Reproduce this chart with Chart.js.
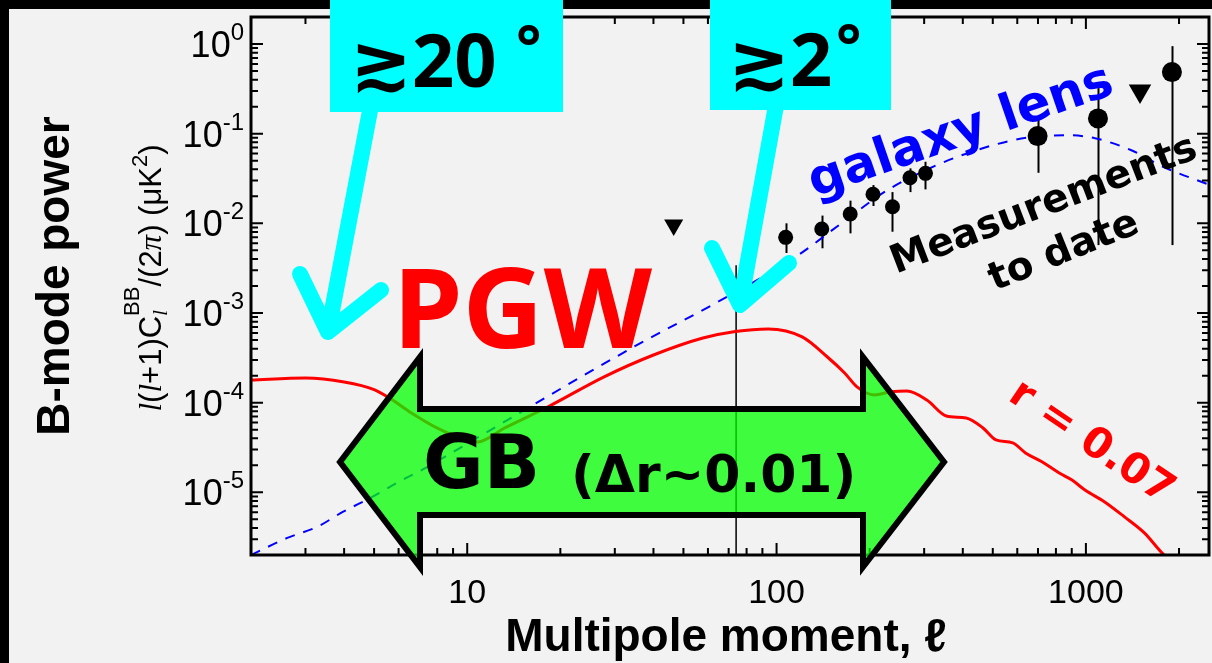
<!DOCTYPE html>
<html>
<head>
<meta charset="utf-8">
<script src="https://cdn.jsdelivr.net/npm/chart.js@4"></script>
<style>
  html, body { margin: 0; padding: 0; background: #000; overflow: hidden; }
  #wrap { width: 1222px; height: 663px; }
</style>
</head>
<body>
<div id="wrap"><canvas id="c" width="1222" height="663"></canvas></div>
<script>
// Primordial gravitational-wave B-mode spectrum for r = 0.07
const pgwEll = [2, 3, 4, 5, 5.6, 6.6, 8.1, 9.9, 10.8, 13.2, 18.2, 27.7, 40, 57.8, 73.6, 94, 121, 146, 166, 182, 207, 234, 264, 306, 354, 410, 465, 512, 580, 638, 723, 820, 902, 993, 1150, 1333, 1545, 1790, 2000];
const pgwPower = [1.79e-4, 1.88e-4, 1.70e-4, 1.40e-4, 1.13e-4, 7.67e-5, 5.09e-5, 3.84e-5, 3.65e-5, 5.22e-5, 8.95e-5, 1.94e-4, 3.40e-4, 5.26e-4, 6.22e-4, 6.64e-4, 5.41e-4, 3.23e-4, 2.14e-4, 1.50e-4, 1.22e-4, 1.32e-4, 1.35e-4, 1.07e-4, 7.11e-5, 6.75e-5, 5.22e-5, 3.84e-5, 3.56e-5, 2.75e-5, 2.18e-5, 1.64e-5, 1.37e-5, 1.06e-5, 7.82e-6, 5.32e-6, 3.53e-6, 2.0e-6, 1.5e-6];

// Gravitational lensing B-mode spectrum
const lensEll = [2, 2.62, 3.27, 3.96, 4.93, 6.01, 7.34, 8.89, 34.5, 63.5, 115, 162, 228, 329, 475, 657, 883, 1070, 1403, 1790, 2500];
const lensPower = [2.0e-6, 3.10e-6, 4.11e-6, 6.04e-6, 8.88e-6, 1.31e-5, 1.87e-5, 2.75e-5, 4.18e-4, 1.29e-3, 4.21e-3, 1.0e-2, 2.34e-2, 4.44e-2, 7.05e-2, 9.12e-2, 9.6e-2, 8.89e-2, 6.53e-2, 4.22e-2, 2.7e-2];

// Measured band powers with 1-sigma ranges
const measEll = [107, 140, 173, 205, 237, 270, 303, 698, 1094, 1897];
const measPower = [6.98e-3, 8.64e-3, 1.27e-2, 2.11e-2, 1.53e-2, 3.22e-2, 3.61e-2, 9.40e-2, 0.148, 0.486];
const measLow = [4.67e-3, 5.27e-3, 7.73e-3, 1.56e-2, 8.06e-3, 2.23e-2, 2.39e-2, 3.66e-2, 5.72e-3, 5.72e-3];
const measHigh = [1.0e-2, 1.22e-2, 1.79e-2, 2.67e-2, 2.23e-2, 4.10e-2, 4.86e-2, 0.148, 0.322, 0.946];

// Upper limits
const limitEll = [46.5, 1496];
const limitPower = [9.6e-3, 0.30];

// Angular scale marker (ell ~ 74, i.e. ~2 degrees)
const markerEll = [74, 74];
const markerPower = [3.4e-3, 2e-6];

// Axis ticks
const xTickLabels = [10, 100, 1000];
const yTickExponents = [0, -1, -2, -3, -4, -5];

const toXY = (xs, ys) => xs.map((x, i) => ({ x, y: ys[i] }));

const SANS = "'Liberation Sans', Arial, sans-serif";
const NOTO = "'Noto Sans', 'DejaVu Sans', sans-serif";
const WIDE = "'DejaVu Sans', sans-serif";

function drawBackground(chart) {
  const c = chart.ctx;
  c.save();
  c.fillStyle = '#000';
  c.fillRect(0, 0, chart.width, chart.height);
  c.fillStyle = '#f2f2f2';
  c.fillRect(9, 9, chart.width, chart.height);
  c.restore();
}

function drawErrorBars(chart) {
  const c = chart.ctx, xs = chart.scales.x, ys = chart.scales.y;
  c.save();
  c.strokeStyle = '#000';
  c.lineWidth = 2;
  measEll.forEach((l, i) => {
    const px = Math.round(xs.getPixelForValue(l)) + 0.5;
    c.beginPath();
    c.moveTo(px, ys.getPixelForValue(measHigh[i]));
    c.lineTo(px, ys.getPixelForValue(measLow[i]));
    c.stroke();
  });
  c.restore();
}

function minorValues(min, max) {
  const out = [];
  for (let e = Math.floor(Math.log10(min)); e <= Math.ceil(Math.log10(max)); e++) {
    for (let k = 1; k <= 9; k++) {
      const v = k * Math.pow(10, e);
      if (v >= min * 0.999 && v <= max * 1.001) out.push({ v, major: k === 1 });
    }
  }
  return out;
}

function drawFrame(chart) {
  const c = chart.ctx, a = chart.chartArea, xs = chart.scales.x, ys = chart.scales.y;
  c.save();
  c.strokeStyle = '#000';
  c.lineWidth = 2;
  // inward tick marks on all four sides
  minorValues(xs.min, xs.max).forEach(t => {
    const px = xs.getPixelForValue(t.v);
    const len = t.major ? 12 : 7;
    c.beginPath();
    c.moveTo(px, a.bottom); c.lineTo(px, a.bottom - len);
    c.moveTo(px, a.top); c.lineTo(px, a.top + len);
    c.stroke();
  });
  minorValues(ys.min, ys.max).forEach(t => {
    const py = ys.getPixelForValue(t.v);
    const len = t.major ? 12 : 7;
    c.beginPath();
    c.moveTo(a.left, py); c.lineTo(a.left + len, py);
    c.moveTo(a.right, py); c.lineTo(a.right - len, py);
    c.stroke();
  });
  c.lineWidth = 3;
  c.strokeRect(a.left, a.top, a.right - a.left, a.bottom - a.top);

  // tick labels
  c.fillStyle = '#000';
  c.textBaseline = 'alphabetic';
  c.textAlign = 'center';
  c.font = `34px ${SANS}`;
  xTickLabels.forEach(v => {
    c.fillText(String(v), xs.getPixelForValue(v), 603);
  });
  yTickExponents.forEach(e => {
    const py = ys.getPixelForValue(Math.pow(10, e));
    const exp = e === 0 ? '0' : '-' + Math.abs(e);
    c.font = `24px ${SANS}`;
    const ew = c.measureText(exp).width;
    c.textAlign = 'right';
    c.fillText(exp, 244, py - 4);
    c.font = `36px ${SANS}`;
    c.fillText('10', 244 - ew, py + 13);
  });
  c.restore();
}

function drawAxisTitles(chart) {
  const c = chart.ctx;
  c.save();
  c.fillStyle = '#000';
  c.textBaseline = 'alphabetic';
  // horizontal title
  c.font = `bold 46px ${SANS}`;
  c.textAlign = 'center';
  c.fillText('Multipole moment, \u2113', 726, 651);

  // "B-mode power"
  c.save();
  c.translate(69, 276);
  c.rotate(-Math.PI / 2);
  c.font = `bold 46px ${SANS}`;
  c.textAlign = 'center';
  c.fillText('B-mode power', 0, 0);
  c.restore();

  // l(l+1)C_l^BB/(2pi) (uK^2)
  c.save();
  c.translate(161, 278);
  c.rotate(-Math.PI / 2);
  const base = 31, small = 22;
  const parts = [
    { t: 'l', f: `italic ${base}px 'Liberation Serif', serif` },
    { t: '(', f: `${base}px ${SANS}` },
    { t: 'l', f: `italic ${base}px 'Liberation Serif', serif` },
    { t: '+1)C', f: `${base}px ${SANS}` },
    { t: 'l', f: `italic ${small}px 'Liberation Serif', serif`, dy: 6, stackWith: { t: 'BB', f: `${small}px ${SANS}`, dy: -22 } },
    { t: '/(2', f: `${base}px ${SANS}` },
    { t: '\u03c0', f: `italic ${base}px 'Liberation Serif', serif` },
    { t: ') (\u03bcK', f: `${base}px ${SANS}` },
    { t: '2', f: `${small}px ${SANS}`, dy: -14 },
    { t: ')', f: `${base}px ${SANS}` }
  ];
  let total = 0;
  parts.forEach(p => {
    c.font = p.f; let w = c.measureText(p.t).width;
    if (p.stackWith) { c.font = p.stackWith.f; w = Math.max(w, c.measureText(p.stackWith.t).width); }
    p.w = w; total += w;
  });
  let x = -total / 2;
  c.textAlign = 'left';
  parts.forEach(p => {
    c.font = p.f;
    c.fillText(p.t, x, p.dy || 0);
    if (p.stackWith) { c.font = p.stackWith.f; c.fillText(p.stackWith.t, x, p.stackWith.dy); }
    x += p.w;
  });
  c.restore();
  c.restore();
}

function drawGreenArrow(chart) {
  const c = chart.ctx;
  c.save();
  c.beginPath();
  const pts = [[340, 462], [420, 357], [420, 409], [863, 409], [863, 357], [944, 462], [863, 567], [863, 515], [420, 515], [420, 567]];
  pts.forEach((p, i) => i ? c.lineTo(p[0], p[1]) : c.moveTo(p[0], p[1]));
  c.closePath();
  c.fillStyle = 'rgba(0, 255, 0, 0.74)';
  c.fill();
  c.lineWidth = 6;
  c.lineJoin = 'miter';
  c.strokeStyle = '#000';
  c.stroke();
  c.fillStyle = '#000';
  c.textBaseline = 'alphabetic';
  c.textAlign = 'left';
  c.font = `bold 74px ${WIDE}`;
  c.fillText('GB', 423, 488);
  c.font = `bold 52px ${WIDE}`;
  c.fillText('(\u0394r~0.01)', 571, 492);
  c.restore();
}

function drawCallouts(chart) {
  const c = chart.ctx;
  c.save();
  // cyan pointers
  c.strokeStyle = '#00ffff';
  c.lineWidth = 16;
  c.lineCap = 'round';
  c.lineJoin = 'round';
  const arrows = [
    { from: [372, 100], tip: [328, 332], l: [300, 274], r: [381, 290] },
    { from: [777, 100], tip: [740, 305], l: [712, 248], r: [789, 263] }
  ];
  arrows.forEach(a => {
    c.beginPath();
    c.moveTo(a.from[0], a.from[1]); c.lineTo(a.tip[0], a.tip[1]);
    c.moveTo(a.l[0], a.l[1]); c.lineTo(a.tip[0], a.tip[1]); c.lineTo(a.r[0], a.r[1]);
    c.stroke();
  });
  // cyan boxes
  c.fillStyle = '#00ffff';
  c.fillRect(330, 0, 233, 112);
  c.fillRect(710, 0, 181, 110);
  c.fillStyle = '#000';
  c.textBaseline = 'alphabetic';
  c.textAlign = 'left';
  c.font = `bold 74px ${NOTO}`;
  c.fillText('\u227320', 350, 87);
  c.fillText('\u22732', 728, 86);
  c.font = `bold 60px ${NOTO}`;
  c.fillText('\u00b0', 516, 68);
  c.fillText('\u00b0', 836, 67);

  // PGW
  c.fillStyle = '#ff0000';
  c.font = `bold 112px ${NOTO}`;
  c.fillText('PGW', 393, 348);

  // rotated labels
  const rot = (txt, x, y, deg, font, color) => {
    c.save();
    c.translate(x, y);
    c.rotate(deg * Math.PI / 180);
    c.font = font;
    c.fillStyle = color;
    c.textAlign = 'center';
    c.textBaseline = 'middle';
    c.fillText(txt, 0, 0);
    c.restore();
  };
  rot('galaxy lens', 961, 133, -19, `bold 50px ${WIDE}`, '#0000ff');
  rot('Measurements', 1044, 206, -21, `bold 39px ${WIDE}`, '#000');
  rot('to date', 1064, 252, -22, `bold 39px ${WIDE}`, '#000');
  rot('r = 0.07', 1091, 443, 34, `bold 42px ${WIDE}`, '#ff0000');
  c.restore();
}

const overlay = {
  id: 'overlay',
  beforeDraw: drawBackground,
  beforeDatasetsDraw: drawErrorBars,
  afterDatasetsDraw(chart) {
    drawFrame(chart);
    drawAxisTitles(chart);
    drawGreenArrow(chart);
    drawCallouts(chart);
  }
};

new Chart(document.getElementById('c'), {
  type: 'line',
  data: {
    datasets: [
      {
        label: 'r = 0.07',
        data: toXY(pgwEll, pgwPower),
        borderColor: '#ff0000',
        borderWidth: 3,
        pointRadius: 0,
        cubicInterpolationMode: 'monotone',
        order: 3
      },
      {
        label: 'lensing',
        data: toXY(lensEll, lensPower),
        borderColor: '#0000ff',
        borderWidth: 2,
        borderDash: [10, 9],
        pointRadius: 0,
        cubicInterpolationMode: 'monotone',
        order: 4
      },
      {
        label: '2 deg',
        data: toXY(markerEll, markerPower),
        borderColor: '#000',
        borderWidth: 1.5,
        pointRadius: 0,
        order: 5
      },
      {
        label: 'measurements',
        data: toXY(measEll, measPower),
        showLine: false,
        pointRadius: ctx => (ctx.dataIndex >= 7 ? 10 : 7.5),
        pointBackgroundColor: '#000',
        pointBorderWidth: 0,
        order: 1
      },
      {
        label: 'upper limits',
        data: toXY(limitEll, limitPower),
        showLine: false,
        pointStyle: 'triangle',
        rotation: 180,
        pointRadius: ctx => (ctx.dataIndex === 1 ? 13 : 11),
        pointBackgroundColor: '#000',
        pointBorderWidth: 0,
        order: 2
      }
    ]
  },
  options: {
    responsive: false,
    animation: false,
    devicePixelRatio: 1,
    layout: { padding: { left: 0, top: 17, right: 5, bottom: 0 } },
    plugins: { legend: { display: false }, tooltip: { enabled: false } },
    scales: {
      x: {
        type: 'logarithmic', min: 2, max: 2500,
        grid: { display: false }, border: { display: false },
        ticks: { display: false },
        afterFit: s => { s.height = 108; }
      },
      y: {
        type: 'logarithmic', min: 2e-6, max: 2,
        grid: { display: false }, border: { display: false },
        ticks: { display: false },
        afterFit: s => { s.width = 251; }
      }
    }
  },
  plugins: [overlay]
});
</script>
</body>
</html>
